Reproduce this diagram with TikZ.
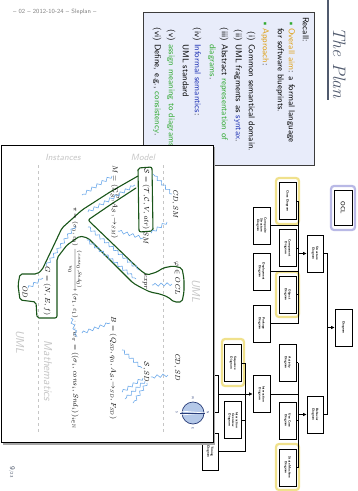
\documentclass[tikz,border=0pt]{standalone}
\usepackage{amsmath,amssymb}
\usetikzlibrary{decorations.pathmorphing,arrows.meta}
\definecolor{recallbg}{RGB}{232,236,250}
\definecolor{orng}{RGB}{222,160,20}
\definecolor{grn}{RGB}{50,170,50}
\definecolor{blu}{RGB}{30,50,180}
\definecolor{dgreen}{RGB}{25,85,25}
\definecolor{wave}{RGB}{110,170,235}
\definecolor{hlyellow}{RGB}{240,225,140}
\definecolor{hlpurple}{RGB}{185,185,230}
\definecolor{titlecol}{RGB}{80,90,110}
\definecolor{lgray}{RGB}{198,198,198}
\definecolor{compfill}{RGB}{180,200,232}
\definecolor{compline}{RGB}{40,60,120}
\begin{document}
\begin{tikzpicture}[x=1pt,y=-1pt,
  rot/.style={rotate=-90, inner sep=0pt},
  tbox/.style={rot, draw, line width=0.7pt, fill=white, minimum width=37pt, minimum height=17pt, align=center, font=\sffamily\bfseries\fontsize{3.2}{3.7}\selectfont},
  tline/.style={line width=0.6pt},
  tarrow/.style={line width=0.6pt, -{Latex[length=3.5pt,width=3.5pt]}},
  hly/.style={draw=hlyellow, line width=2.2pt, rounded corners=3pt},
  wavy/.style={draw=wave, line width=0.6pt, decorate, decoration={snake, segment length=6pt, amplitude=1.5pt}},
  handg/.style={draw=dgreen, line width=1.1pt, line join=round, line cap=round, rounded corners=2pt},
  mlab/.style={rot, font=\fontsize{7}{8}\selectfont},
  bigl/.style={rot, text=lgray, font=\sffamily\itshape\fontsize{11.5}{12}\selectfont},
  rtext/.style={rot, anchor=mid west, font=\sffamily\fontsize{8.6}{10}\selectfont},
  rlabel/.style={rot, anchor=mid east, font=\sffamily\fontsize{8.6}{10}\selectfont}
]
\useasboundingbox (0,0) rectangle (358,491);
\fill[white] (0,0) rectangle (358,491);

% header and title
\node[anchor=west, inner sep=0pt, text=gray, font=\sffamily\fontsize{6.2}{7}\selectfont] (hdr) at (13,11.5) {-- 02 -- 2012-10-24 -- Sleplan --};
\draw[titlecol, line width=1.2pt] (328,0) -- (328,100);
\node[rot, anchor=base west, text=titlecol, font=\itshape\fontsize{18}{20}\selectfont] (title) at (333,27) {The Plan};

% recall box
\draw[draw={rgb,255:red,60;green,60;blue,60}, fill=recallbg, line width=1pt] (143,12) rectangle (314,165);
\begin{scope}
\clip (144,13) rectangle (313,164);
\node[rtext] (r1) at (305,17) {Recall:};
\node[rtext] (b1) at (291,20) {\textcolor{grn}{\textbullet}};
\node[rtext] (r2) at (291,28) {\textcolor{orng}{Overall aim}: a formal language};
\node[rtext] (r3) at (280,28) {for software blueprints.};
\node[rtext] (b2) at (265,20) {\textcolor{grn}{\textbullet}};
\node[rtext] (r4) at (265,28) {\textcolor{orng}{Approach}:};
\node[rlabel] (l1) at (251,41) {(i)};
\node[rtext] (r5) at (251,44) {Common semantical domain.};
\node[rlabel] (l2) at (238,41) {(ii)};
\node[rtext] (r6) at (238,44) {UML fragments as \textcolor{blu}{syntax}.};
\node[rlabel] (l3) at (224,41) {(iii)};
\node[rtext] (r7) at (224,44) {Abstract \textcolor{grn}{representation of}};
\node[rtext] (r8) at (212,44) {\textcolor{grn}{diagrams}.};
\node[rlabel] (l4) at (197,41) {(iv)};
\node[rtext] (r9) at (197,44) {\textcolor{blu}{Informal semantics}:};
\node[rtext] (r10) at (185,44) {UML standard};
\node[rlabel] (l5) at (171,41) {(v)};
\node[rtext] (r11) at (171,44) {\textcolor{grn}{assign meaning to diagrams}};
\node[rlabel] (l6) at (157,41) {(vi)};
\node[rtext] (r12) at (157,44) {Define, e.g., \textcolor{grn}{consistency}.};
\end{scope}

% UML diagram tree
\draw[hlpurple, line width=2.2pt, rounded corners=3pt] (331,186) rectangle (355,230);
\node[tbox, minimum width=35pt, minimum height=18pt, font=\sffamily\fontsize{6}{7}\selectfont] (ocl) at (343,207.5) {OCL};
\node[tbox] (dia) at (343.5,327.5) {Diagram};
\node[tbox, minimum height=16pt] (str) at (315,253.5) {Structure\\Diagram};
\node[tbox, minimum height=16pt] (beh) at (315,414.5) {Behavior\\Diagram};
\draw[hly] (276,178) rectangle (299,224);
\draw[hly] (276,272) rectangle (299,317);
\draw[hly] (276,444) rectangle (299,490);
\draw[hly] (222,339) rectangle (244,386);
\node[tbox] (cls) at (287.5,201) {Class Diagram};
\node[tbox] (cmp) at (287.5,248) {Component\\Diagram};
\node[tbox] (obj) at (287.5,294.5) {Object\\Diagram};
\node[tbox] (cst) at (261.5,225.5) {Composite\\Structure\\Diagram};
\node[tbox] (dep) at (261.5,271.5) {Deployment\\Diagram};
\node[tbox] (pkg) at (261.5,323.5) {Package\\Diagram};
\node[tbox] (act) at (287.5,362.5) {Activity\\Diagram};
\node[tbox] (uc) at (287.5,420.5) {Use Case\\Diagram};
\node[tbox] (stm) at (287.5,467.5) {State Machine\\Diagram};
\node[tbox] (itr) at (261.5,394) {Interaction\\Diagram};
\node[tbox] (seq) at (233,363) {Sequence\\Diagram};
\node[tbox] (iov) at (233,420) {Interaction\\Overview\\Diagram};
\node[tbox, minimum height=16pt] (com) at (210,394) {Communication\\Diagram};
\node[tbox, minimum height=16pt] (tim) at (210,451.5) {Timing\\Diagram};
\coordinate (tS) at (298,0);
\coordinate (tM) at (327,0);
\coordinate (tI) at (245,0);
\foreach \n in {cls,cmp,obj,cst,dep,pkg,act,uc,stm,itr} \draw[tline] (\n.north) -- (\n.north -| tS);
\draw[tline] (cls.north -| tS) -- (pkg.north -| tS);
\draw[tline] (act.north -| tS) -- (stm.north -| tS);
\draw[tarrow] (str.south -| tS) -- (str.south);
\draw[tarrow] (beh.south -| tS) -- (beh.south);
\draw[tline] (str.north) -- (str.north -| tM) -- (beh.north -| tM) -- (beh.north);
\draw[tarrow] (dia.south -| tM) -- (dia.south);
\foreach \n in {seq,iov,com,tim} \draw[tline] (\n.north) -- (\n.north -| tI);
\draw[tline] (seq.north -| tI) -- (tim.north -| tI);
\draw[tarrow] (itr.south -| tI) -- (itr.south);

% diagram box
\fill[gray!70] (3,147) rectangle (215,444.5);
\draw[fill=white, line width=0.8pt] (1,145) rectangle (213,442);

% dashed separators
\draw[lgray, dashed, line width=0.8pt] (38,165) -- (38,432);
\draw[lgray, dashed, line width=0.8pt] (163,165) -- (163,432);

% big gray labels
\node[inner sep=0pt, text=lgray, font=\sffamily\itshape\fontsize{9}{10}\selectfont] (inst) at (63,157) {Instances};
\node[inner sep=0pt, text=lgray, font=\sffamily\itshape\fontsize{9}{10}\selectfont] (model) at (143,157) {Model};
\node[bigl] (umlr) at (196,291) {UML};
\node[bigl] (umll) at (20,342) {UML};
\node[bigl] (math) at (48,371) {Mathematics};

% green hand-drawn outlines
\draw[handg] (138,168) -- (152,167) -- (153,231) -- (139,232) -- cycle;
\draw[handg] (138,176) -- (110,192) -- (82,210) -- (62,228) -- (53,247) -- (42,270) -- (37,274)
  -- (20,274) -- (18,285) -- (20,300) -- (36,302) -- (37,318) -- (57,318) -- (57,258)
  -- (67,245) -- (80,236) -- (88,238) -- (133,283) -- (140,287) -- (150,292) -- (160,294)
  -- (168,297) -- (174,302) -- (182,302) -- (184,292) -- (184,279) -- (182,268) -- (173,266)
  -- (163,268) -- (157,272) -- (147,275) -- (140,270) -- (88,220) -- (110,205) -- (136,188);

% math labels
\node[mlab] (cdsm) at (175,204) {$\mathit{CD}, \mathit{SM}$};
\node[mlab] (phiocl) at (177,278) {$\varphi \in \mathit{OCL}$};
\node[mlab] (cdsd) at (177,367) {$\mathit{CD}, \mathit{SD}$};
\node[mlab] (sig) at (146,199) {$\mathcal{S} = (\mathcal{T}, \mathcal{C}, V, \mathit{atr})$};
\node[mlab] (smlab) at (146,238) {$\mathit{SM}$};
\node[mlab] (Mlab) at (115,202) {$M = (\Sigma_{\mathcal{S}}^{\mathcal{D}}, A_{\mathcal{S}}, \to_{\mathit{SM}})$};
\node[mlab, anchor=west, font=\fontsize{6.5}{7.5}\selectfont] (pilab) at (75,207) {$\pi = (\sigma_0, \varepsilon_0) \xrightarrow[u_0]{(\mathit{cons}_0, \mathit{Snd}_0)} (\sigma_1, \varepsilon_1) \cdots$};
\node[mlab] (Glab) at (47,291) {$G = (N, E, f)$};
\node[mlab] (odlab) at (25,292) {$\mathit{OD}$};
\node[mlab] (expr) at (145,282) {$\mathit{expr}$};
\node[mlab] (Blab) at (113,368) {$B = (Q_{\mathit{SD}}, q_0, A_{\mathcal{S}}, \to_{\mathit{SD}}, F_{\mathit{SD}})$};
\node[mlab] (ssd) at (146,372) {$\mathcal{S}, \mathit{SD}$};
\node[mlab] (wpi) at (75,380) {$w_\pi = ((\sigma_i, \mathit{cons}_i, \mathit{Snd}_i))_{i \in \mathbb{N}}$};

% wavy relations
\draw[wavy] (172,194) -- (153,174);
\draw[wavy] (167,222) -- (151,233);
\draw[wavy] (143,238) -- (118,231);
\draw[wavy] (112,176) -- (82,195);
\draw[wavy] (88,212) -- (135,185);
\draw[wavy] (88,227) -- (139,270);
\draw[wavy] (87,240) -- (136,279);
\draw[wavy] (172,284) -- (152,285);
\draw[wavy] (75,226) -- (46,266);
\draw[wavy] (28,288) -- (43,278);
\draw[wavy] (71,318) -- (77,337);
\draw[wavy] (82,333) -- (110,323);
\draw[wavy] (122,350) -- (142,368);
\draw[wavy] (168,375) -- (151,377);
\draw[wavy] (143,378) -- (122,392);
\draw[wavy] (145,381) -- (125,399);
\draw[wavy] (147,383) -- (133,403);

% compass
\draw[compline, fill=compfill, line width=0.7pt] (193,413) circle (11);
\draw[white, line width=0.8pt] (180,411) -- (205,413) -- (180,415);
\draw[compline, line width=0.5pt] (180,413) -- (205,413);
\node[rot, font=\sffamily\fontsize{3}{3}\selectfont, text=compline] (cN) at (208,413) {N};
\node[rot, font=\sffamily\fontsize{3}{3}\selectfont, text=compline] (cS) at (177,412) {S};
\node[rot, font=\sffamily\fontsize{3}{3}\selectfont, text=compline] (cW) at (193,398) {W};
\node[rot, font=\sffamily\fontsize{3}{3}\selectfont, text=compline] (cE) at (193,428) {E};

% page number
\node[rot, text=titlecol, font=\sffamily\fontsize{7}{8}\selectfont] (pg) at (12,472) {9{\fontsize{4.5}{5}\selectfont/23}};
\end{tikzpicture}
\end{document}
